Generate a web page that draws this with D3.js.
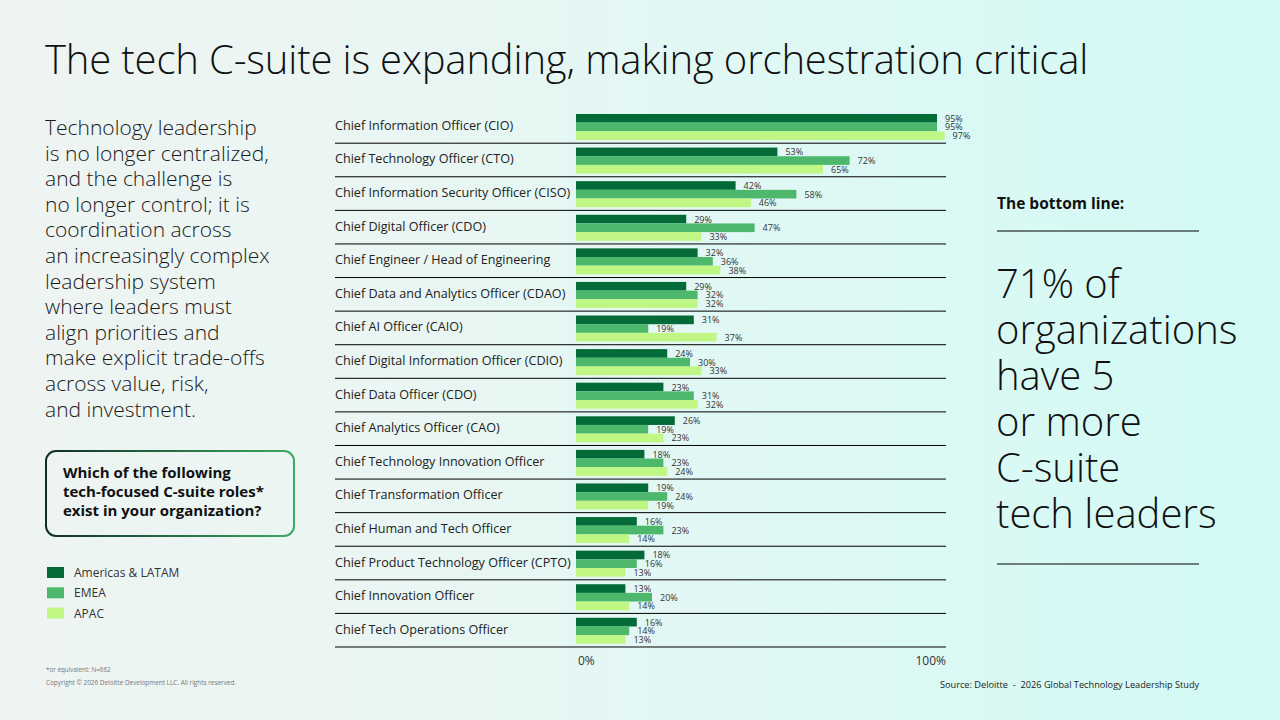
<!DOCTYPE html>
<html>
<head>
<meta charset="utf-8">
<script src="https://cdn.jsdelivr.net/npm/d3@7"></script>
<style>
  html, body { margin: 0; padding: 0; }
  body { width: 1280px; height: 720px; overflow: hidden; font-family: "Open Sans", sans-serif; }
</style>
</head>
<body>
<div id="chart"></div>
<script>
// data
var roles = [
  "Chief Information Officer (CIO)",
  "Chief Technology Officer (CTO)",
  "Chief Information Security Officer (CISO)",
  "Chief Digital Officer (CDO)",
  "Chief Engineer / Head of Engineering",
  "Chief Data and Analytics Officer (CDAO)",
  "Chief AI Officer (CAIO)",
  "Chief Digital Information Officer (CDIO)",
  "Chief Data Officer (CDO)",
  "Chief Analytics Officer (CAO)",
  "Chief Technology Innovation Officer",
  "Chief Transformation Officer",
  "Chief Human and Tech Officer",
  "Chief Product Technology Officer (CPTO)",
  "Chief Innovation Officer",
  "Chief Tech Operations Officer"
];
var regions = ["Americas & LATAM", "EMEA", "APAC"];
var americas = [95, 53, 42, 29, 32, 29, 31, 24, 23, 26, 18, 19, 16, 18, 13, 16];
var emea     = [95, 72, 58, 47, 36, 32, 19, 30, 31, 19, 23, 24, 23, 16, 20, 14];
var apac     = [97, 65, 46, 33, 38, 32, 37, 33, 32, 23, 24, 19, 14, 13, 14, 13];
var axisTicks = [0, 100];

var leftText = [
  "Technology leadership",
  "is no longer centralized,",
  "and the challenge is",
  "no longer control; it is",
  "coordination across",
  "an increasingly complex",
  "leadership system",
  "where leaders must",
  "align priorities and",
  "make explicit trade-offs",
  "across value, risk,",
  "and investment."
];
var questionText = [
  "Which of the following",
  "tech-focused C-suite roles*",
  "exist in your organization?"
];
var bottomLine = [
  "71% of",
  "organizations",
  "have 5",
  "or more",
  "C-suite",
  "tech leaders"
];

var width = 1280, height = 720;
var colors = d3.scaleOrdinal().domain(regions).range(["#046A38", "#4DB86C", "#BFF684"]);

var rows = roles.map(function (r, i) {
  return { role: r, values: [americas[i], emea[i], apac[i]] };
});

var svg = d3.select("#chart").append("svg")
    .attr("width", width)
    .attr("height", height);

var defs = svg.append("defs");
var bg = defs.append("linearGradient").attr("id", "bg")
    .attr("x1", "0%").attr("x2", "100%").attr("y1", "0%").attr("y2", "0%");
bg.append("stop").attr("offset", "0%").attr("stop-color", "#EEF4F2");
bg.append("stop").attr("offset", "30%").attr("stop-color", "#EAF6F3");
bg.append("stop").attr("offset", "100%").attr("stop-color", "#D2FAF5");

var boxGrad = defs.append("linearGradient").attr("id", "boxGrad")
    .attr("x1", "0%").attr("x2", "100%").attr("y1", "0%").attr("y2", "0%");
boxGrad.append("stop").attr("offset", "0%").attr("stop-color", "#0F2F26");
boxGrad.append("stop").attr("offset", "100%").attr("stop-color", "#3DAA62");

svg.append("rect")
    .attr("width", width)
    .attr("height", height)
    .attr("fill", "url(#bg)");

// title
svg.append("text")
    .attr("x", 45)
    .attr("y", 74)
    .style("font-size", "40px")
    .style("font-weight", 300)
    .style("letter-spacing", "-0.15px")
    .style("fill", "#111")
    .text("The tech C-suite is expanding, making orchestration critical");

// left paragraph
svg.append("g").selectAll("text")
    .data(leftText)
    .enter().append("text")
      .attr("x", 45)
      .attr("y", function (d, i) { return 135 + i * 25.6; })
      .style("font-size", "21px")
      .style("font-weight", 300)
      .style("fill", "#1a1a1a")
      .text(function (d) { return d; });

// question box
svg.append("rect")
    .attr("x", 46)
    .attr("y", 451)
    .attr("width", 248)
    .attr("height", 85)
    .attr("rx", 10)
    .attr("fill", "none")
    .attr("stroke", "url(#boxGrad)")
    .attr("stroke-width", 2);

svg.append("g").selectAll("text")
    .data(questionText)
    .enter().append("text")
      .attr("x", 63)
      .attr("y", function (d, i) { return 478 + i * 19; })
      .style("font-size", "15px")
      .style("font-weight", 700)
      .style("fill", "#111")
      .text(function (d) { return d; });

// legend
var legend = svg.append("g").selectAll("g")
    .data(regions)
    .enter().append("g")
      .attr("transform", function (d, i) { return "translate(47," + (567 + i * 20.3) + ")"; });

legend.append("rect")
    .attr("width", 17)
    .attr("height", 11)
    .attr("fill", function (d) { return colors(d); });

legend.append("text")
    .attr("x", 27)
    .attr("y", 10)
    .style("font-size", "12px")
    .style("fill", "#333")
    .text(function (d) { return d; });

// footnotes
svg.append("text")
    .attr("x", 46).attr("y", 672)
    .style("font-size", "6.3px").style("fill", "#777")
    .text("*or equivalent: N=662");
svg.append("text")
    .attr("x", 46).attr("y", 685)
    .style("font-size", "6.4px").style("fill", "#777")
    .text("Copyright \u00A9 2026 Deloitte Development LLC. All rights reserved.");

// chart
var x = d3.scaleLinear().domain([0, 100]).range([576, 956]);
var y = d3.scaleBand().domain(roles).range([109.6, 647]);
var yInner = d3.scaleBand().domain(regions).range([4.4, 30.4]);

var row = svg.append("g").selectAll("g")
    .data(rows)
    .enter().append("g")
      .attr("transform", function (d) { return "translate(0," + y(d.role) + ")"; });

row.append("text")
    .attr("x", 335)
    .attr("y", y.bandwidth() / 2 + 3.5)
    .style("font-size", "12.6px")
    .style("fill", "#222")
    .text(function (d) { return d.role; });

row.append("line")
    .attr("x1", 335)
    .attr("x2", 946)
    .attr("y1", y.bandwidth())
    .attr("y2", y.bandwidth())
    .attr("stroke", "#000")
    .attr("stroke-width", 1);

var bar = row.selectAll(".bar")
    .data(function (d) {
      return d.values.map(function (v, i) { return { region: regions[i], value: v }; });
    })
    .enter().append("g")
      .attr("class", "bar");

bar.append("rect")
    .attr("x", x(0))
    .attr("y", function (d) { return yInner(d.region); })
    .attr("width", function (d) { return x(d.value) - x(0); })
    .attr("height", yInner.bandwidth())
    .attr("fill", function (d) { return colors(d.region); });

bar.append("text")
    .attr("x", function (d) { return x(d.value) + 8; })
    .attr("y", function (d) { return yInner(d.region) + yInner.bandwidth() / 2 + 3.5; })
    .style("font-size", "9px")
    .style("fill", "#333")
    .text(function (d) { return d.value + "%"; });

// axis labels
svg.append("g").selectAll("text")
    .data(axisTicks)
    .enter().append("text")
      .attr("x", function (d) { return d === 0 ? x(d) + 2 : x(d) - 10; })
      .attr("y", 665)
      .attr("text-anchor", function (d) { return d === 0 ? "start" : "end"; })
      .style("font-size", "12px")
      .style("fill", "#333")
      .text(function (d) { return d + "%"; });

// source
svg.append("text")
    .attr("x", 940)
    .attr("y", 688)
    .style("font-size", "9.2px")
    .style("fill", "#222")
    .style("white-space", "pre")
    .text("Source: Deloitte  -  2026 Global Technology Leadership Study");

// bottom line panel
svg.append("text")
    .attr("x", 997)
    .attr("y", 209)
    .style("font-size", "15.5px")
    .style("font-weight", 700)
    .style("fill", "#111")
    .text("The bottom line:");

svg.append("line")
    .attr("x1", 997).attr("x2", 1199)
    .attr("y1", 231).attr("y2", 231)
    .attr("stroke", "#000").attr("stroke-width", 1);

svg.append("g").selectAll("text")
    .data(bottomLine)
    .enter().append("text")
      .attr("x", 996)
      .attr("y", function (d, i) { return 298 + i * 46; })
      .style("font-size", "40px")
      .style("font-weight", 300)
      .style("fill", "#111")
      .text(function (d) { return d; });

svg.append("line")
    .attr("x1", 997).attr("x2", 1199)
    .attr("y1", 564).attr("y2", 564)
    .attr("stroke", "#000").attr("stroke-width", 1);
</script>
</body>
</html>
